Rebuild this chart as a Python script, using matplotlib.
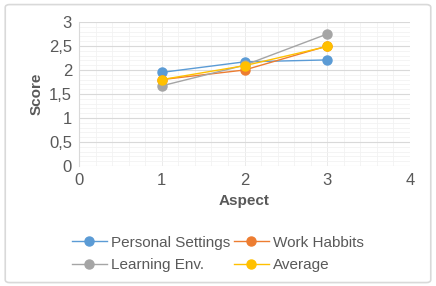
import matplotlib
matplotlib.use('Agg')
import matplotlib.pyplot as plt
from matplotlib.patches import FancyBboxPatch
from matplotlib.ticker import MultipleLocator

aspects = [1, 2, 3]
personal_settings = [1.95, 2.17, 2.21]
work_habbits = [1.80, 2.00, 2.50]
learning_env = [1.67, 2.10, 2.75]
average = [1.80, 2.09, 2.49]
y_ticks = [0, 0.5, 1, 1.5, 2, 2.5, 3]

SERIES = [
    ("Personal Settings", personal_settings, "#5b9bd5"),
    ("Work Habbits",      work_habbits,      "#ed7d31"),
    ("Learning Env.",     learning_env,      "#a5a5a5"),
    ("Average",           average,           "#ffc000"),
]

plt.rcParams['font.family'] = ['Liberation Sans', 'DejaVu Sans']
TXT = '#595959'

fig = plt.figure(figsize=(4.36, 2.86), dpi=100)
fig.patches.append(FancyBboxPatch((0.012, 0.012), 0.976, 0.972,
                                  boxstyle="round,pad=0,rounding_size=0.01",
                                  transform=fig.transFigure, fc='white',
                                  ec='#d9d9d9', lw=1.2, zorder=-10))
ax = fig.add_axes([79 / 436, 1 - 166 / 286, 331 / 436, 144 / 286])
ax.patch.set_alpha(0)

handles = {}
for label, vals, color in SERIES:
    h, = ax.plot(aspects, vals, marker='o', ms=6.5, lw=1.0, color=color, label=label)
    handles[label] = h

ax.xaxis.set_major_locator(MultipleLocator(1))
ax.xaxis.set_minor_locator(MultipleLocator(0.2))
ax.set_yticks(y_ticks)
ax.set_yticklabels([f"{v:g}".replace('.', ',') for v in y_ticks])
ax.yaxis.set_minor_locator(MultipleLocator(0.1))
ax.set_xlim(0, 4)
ax.set_ylim(0, 3)
ax.grid(True, axis='y', which='major', color='#d9d9d9', lw=0.8)
ax.grid(True, axis='x', which='major', color='#ebebeb', lw=0.7)
ax.grid(True, which='minor', color='#f2f2f2', lw=0.6)
ax.set_axisbelow(True)
ax.tick_params(which='both', length=0, colors=TXT, labelsize=12, pad=5)
for s in ax.spines.values():
    s.set_visible(False)
ax.spines['left'].set_visible(True)
ax.spines['left'].set_color('#d9d9d9')
ax.set_xlabel('Aspect', fontsize=11, fontweight='bold', color=TXT, labelpad=4)
ax.set_ylabel('Score', fontsize=11, fontweight='bold', color=TXT, labelpad=4)

# row-wise order like the original legend
order = ["Personal Settings", "Learning Env.", "Work Habbits", "Average"]
fig.legend([handles[k] for k in order], order, loc='center',
           bbox_to_anchor=(0.5, 1 - 254 / 286), ncol=2,
           frameon=False, fontsize=11, labelcolor=TXT, handlelength=2.3,
           columnspacing=0.2, handletextpad=0.3, labelspacing=0.55)

fig.savefig('out.png', dpi=100)
